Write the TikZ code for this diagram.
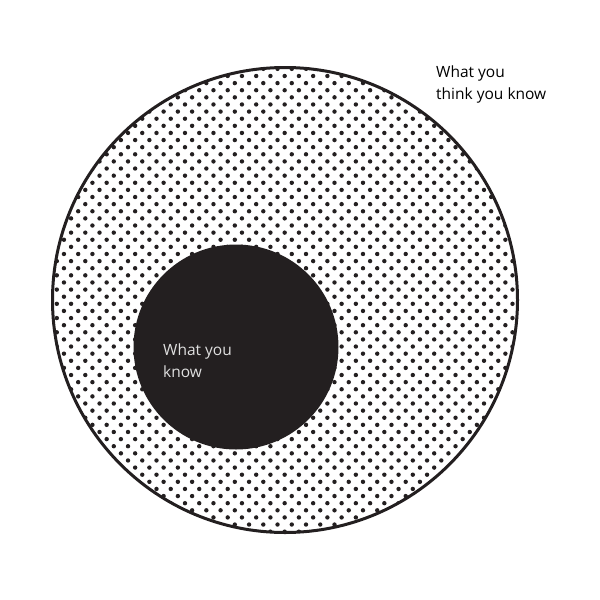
\documentclass[tikz,border=0pt]{standalone}
\usepackage{fontspec}
\setmainfont{Open Sans}
\definecolor{ink}{HTML}{231F20}
\begin{document}
\begin{tikzpicture}[x=1pt,y=-1pt,
  ring/.style={draw=ink,line width=3pt},
  core/.style={fill=ink},
  lbl/.style={font=\fontsize{15.5}{22}\selectfont,align=left,anchor=north west,inner sep=0pt}]
\useasboundingbox (0,0) rectangle (600,600);
\coordinate (c) at (285,300);
\begin{scope}
  \clip (c) circle (232);
  \foreach \j in {8,...,80}{
    \pgfmathsetmacro{\yy}{154.3+7.12*(\j-22)}
    \pgfmathsetmacro{\off}{mod(\j,2)==0 ? 0 : -7.12}
    \foreach \i in {-1,...,35}{
      \fill[ink] ({263.3+\off+14.24*(\i-15)},\yy) circle (2.2);
    }
  }
\end{scope}
\fill[core] (236,347) circle (102.5);
\draw[ring] (c) circle (232.5);
\node[lbl,text=black] (outerlbl) at (436,66) {What you\\think you know};
\node[lbl,text=white!88!black] (innerlbl) at (163,344) {What you\\know};
\end{tikzpicture}
\end{document}
